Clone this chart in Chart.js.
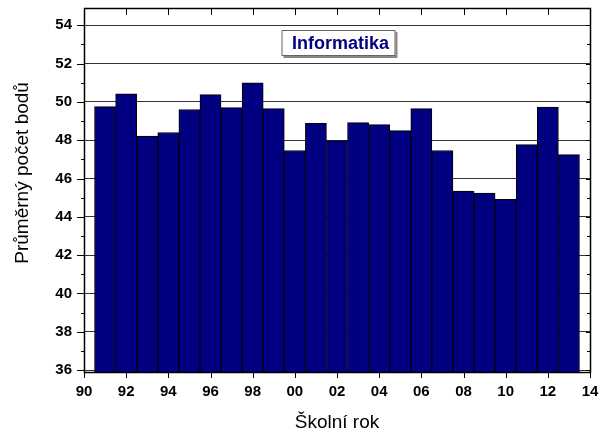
<!DOCTYPE html>
<html>
<head>
<meta charset="utf-8">
<script src="https://cdn.jsdelivr.net/npm/chart.js@4.4.0/dist/chart.umd.min.js"></script>
<style>
	html, body { margin: 0; padding: 0; background: #fff; }
	#wrap { width: 607px; height: 437px; }
</style>
</head>
<body>
<div id="wrap"><canvas id="chart"></canvas></div>
<script>
// school years (90 = 1990, 113 = 2013), one bar per year
const years = [91, 92, 93, 94, 95, 96, 97, 98, 99, 100, 101, 102, 103, 104, 105, 106, 107, 108, 109, 110, 111, 112, 113];
// average score per year
const scores = [49.75, 50.42, 48.22, 48.4, 49.6, 50.38, 49.7, 51.0, 49.65, 47.46, 48.88, 47.98, 48.92, 48.81, 48.5, 49.65, 47.46, 45.35, 45.24, 44.91, 47.77, 49.73, 47.25];
const yTicks = [36, 38, 40, 42, 44, 46, 48, 50, 52, 54];
const yMinorTicks = [37, 39, 41, 43, 45, 47, 49, 51, 53];
const xTicks = [90, 92, 94, 96, 98, 100, 102, 104, 106, 108, 110, 112, 114];
const chartLabel = "Informatika";
const xTitle = "Školní rok";
const yTitle = "Průměrný počet bodů";

const FONT = "'Liberation Sans', Arial, sans-serif";

// frame + tick marks like the original plot (major/minor, in and out)
const framePlugin = {
	id: "frame",
	afterDraw(chart) {
		const { ctx, chartArea: a, scales } = chart;
		const xs = scales.x, ys = scales.y;
		ctx.save();
		ctx.strokeStyle = "#000";
		ctx.lineWidth = 1;
		ctx.beginPath();
		yTicks.forEach((v) => {
			const py = Math.round(ys.getPixelForValue(v)) + 0.5;
			ctx.moveTo(a.left - 7, py); ctx.lineTo(a.left, py);
			ctx.moveTo(a.right - 4, py); ctx.lineTo(a.right, py);
		});
		yMinorTicks.forEach((v) => {
			const py = Math.round(ys.getPixelForValue(v)) + 0.5;
			ctx.moveTo(a.left - 3, py); ctx.lineTo(a.left, py);
			ctx.moveTo(a.right - 3, py); ctx.lineTo(a.right, py);
		});
		xTicks.forEach((v) => {
			const px = Math.round(xs.getPixelForValue(v)) + 0.5;
			ctx.moveTo(px, a.top); ctx.lineTo(px, a.top + 7);
			ctx.moveTo(px, a.bottom); ctx.lineTo(px, a.bottom + 6);
		});
		ctx.stroke();
		ctx.lineWidth = 1.5;
		ctx.strokeRect(Math.round(a.left) + 0.5, Math.round(a.top) + 0.5, Math.round(a.right - a.left), Math.round(a.bottom - a.top));

		// y axis title, sits a bit above the middle in the original
		ctx.save();
		ctx.translate(23, a.top + (a.bottom - a.top) * 0.453);
		ctx.rotate(-Math.PI / 2);
		ctx.fillStyle = "#000";
		ctx.font = "19px " + FONT;
		ctx.textAlign = "center";
		ctx.textBaseline = "middle";
		ctx.fillText(yTitle, 0, 0);
		ctx.restore();

		// label box
		const bx = a.left + 197.5, by = a.top + 22, bw = 114, bh = 26;
		ctx.fillStyle = "#888";
		ctx.fillRect(bx + 2, by + 2, bw, bh);
		ctx.fillStyle = "#fff";
		ctx.fillRect(bx, by, bw, bh);
		ctx.lineWidth = 1;
		ctx.strokeStyle = "#666";
		ctx.strokeRect(bx + 0.5, by + 0.5, bw - 1, bh - 1);
		ctx.fillStyle = "#000080";
		ctx.font = "bold 18px " + FONT;
		ctx.textAlign = "center";
		ctx.textBaseline = "middle";
		ctx.fillText(chartLabel, bx + bw / 2 + 2, by + bh / 2 + 1);
		ctx.restore();
	},
};

new Chart(document.getElementById("chart"), {
	type: "bar",
	data: {
		datasets: [
			{
				data: years.map((x, i) => ({ x, y: scores[i] })),
				backgroundColor: "#000080",
				borderColor: "#000",
				borderWidth: 1,
				barPercentage: 1,
				categoryPercentage: 1,
				borderSkipped: false,
			},
		],
	},
	options: {
		responsive: true,
		maintainAspectRatio: false,
		animation: false,
		layout: { padding: { top: 8, right: 17, left: 0, bottom: 0 } },
		plugins: {
			legend: { display: false },
			tooltip: { enabled: false },
		},
		scales: {
			x: {
				type: "linear",
				min: 90,
				max: 114,
				offset: false,
				grid: { display: false },
				border: { display: false },
				afterBuildTicks: (s) => { s.ticks = xTicks.map((v) => ({ value: v })); },
				afterFit: (s) => { s.height = 65; s.paddingLeft = 0; s.paddingRight = 0; },
				ticks: {
					color: "#000",
					padding: 3,
					maxRotation: 0,
					autoSkip: false,
					font: { family: FONT, size: 15, weight: "bold" },
					callback: (v) => String(v % 100).padStart(2, "0"),
				},
				title: {
					display: true,
					text: xTitle,
					color: "#000",
					padding: { top: 0, bottom: 3 },
					font: { family: FONT, size: 19 },
				},
			},
			y: {
				min: 35.9,
				max: 54.9,
				grid: { color: "#333", lineWidth: 1, drawTicks: false },
				border: { display: false },
				afterBuildTicks: (s) => { s.ticks = yTicks.map((v) => ({ value: v })); },
				afterFit: (s) => { s.width = 84; s.paddingTop = 0; s.paddingBottom = 0; },
				ticks: {
					color: "#000",
					padding: 12,
					font: { family: FONT, size: 15, weight: "bold" },
				},
			},
		},
	},
	plugins: [framePlugin],
});
</script>
</body>
</html>
